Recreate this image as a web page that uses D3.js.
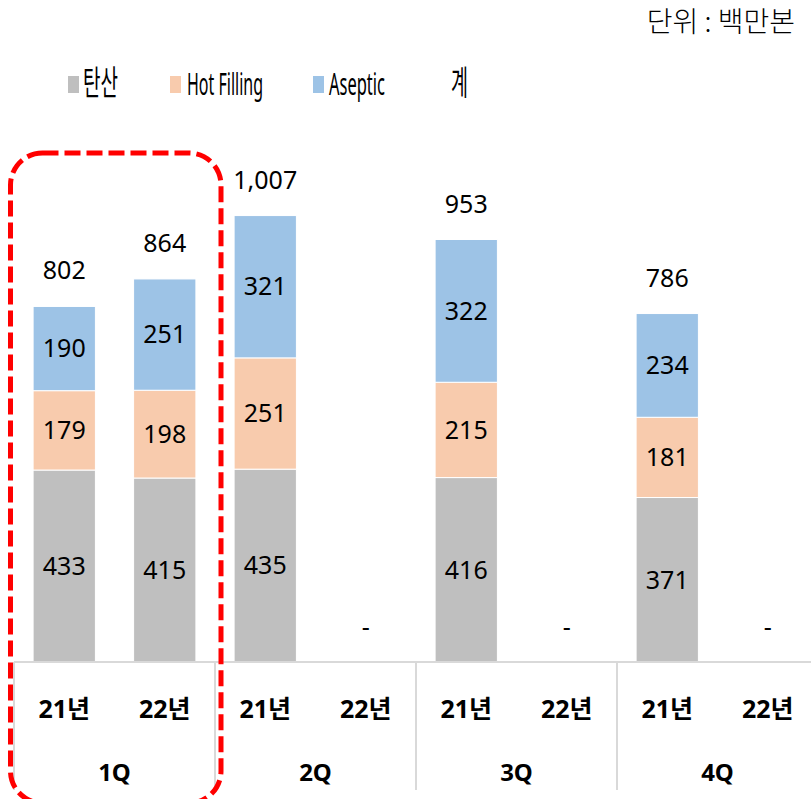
<!DOCTYPE html>
<html>
<head>
<meta charset="utf-8">
<script src="https://cdn.jsdelivr.net/npm/d3@7"></script>
<style>
  body { margin: 0; background: #fff; }
  svg { display: block; }
</style>
</head>
<body>
<div id="chart"></div>
<script>
// data
const quarters = ["1Q", "2Q", "3Q", "4Q"];
const years = ["21년", "22년"];
const series_names = ["탄산", "Hot Filling", "Aseptic"];
// one entry per slot: 1Q-21, 1Q-22, 2Q-21, 2Q-22, ...  (null = no data, shown as "-")
const tansan = [433, 415, 435, null, 416, null, 371, null];
const hot_filling = [179, 198, 251, null, 215, null, 181, null];
const aseptic = [190, 251, 321, null, 322, null, 234, null];
const totals = [802, 864, 1007, null, 953, null, 786, null];

const colors = ["#bfbfbf", "#f8cbad", "#9dc3e6"];
const num_font = "'Noto Sans', 'Noto Sans CJK KR', sans-serif";
const kr_font = "'Noto Sans CJK KR', 'Noto Sans', sans-serif";

const width = 811, height = 799;
const base_y = 662;

const svg = d3.select("#chart")
    .append("svg")
    .attr("width", width)
    .attr("height", height);

// slots
const slots = [];
quarters.forEach(q => years.forEach(y => slots.push(q + "|" + y)));

const rows = slots.map((s, i) => ({
    slot: s,
    "탄산": tansan[i] || 0,
    "Hot Filling": hot_filling[i] || 0,
    "Aseptic": aseptic[i] || 0,
    total: totals[i]
}));

const x = d3.scaleBand()
    .domain(slots)
    .range([14, 818])
    .paddingInner(0.38)
    .paddingOuter(0.19);

const y = d3.scaleLinear()
    .domain([0, 1200])
    .range([base_y, 130]);

const stack = d3.stack().keys(series_names);
const layers = stack(rows);

// bars
const layer_g = svg.selectAll("g.layer")
    .data(layers)
    .join("g")
    .attr("class", "layer")
    .attr("fill", (d, i) => colors[i]);

layer_g.selectAll("rect")
    .data(d => d.filter(p => p[1] > p[0]))
    .join("rect")
    .attr("x", d => x(d.data.slot))
    .attr("y", d => y(d[1]))
    .attr("width", x.bandwidth())
    .attr("height", d => y(d[0]) - y(d[1]))
    .attr("stroke", "#fff")
    .attr("stroke-width", 1);

// segment labels
layer_g.selectAll("text")
    .data(d => d.filter(p => p[1] > p[0]))
    .join("text")
    .attr("x", d => x(d.data.slot) + x.bandwidth() / 2)
    .attr("y", d => (y(d[0]) + y(d[1])) / 2)
    .attr("dy", "0.35em")
    .attr("text-anchor", "middle")
    .attr("font-family", num_font)
    .attr("font-size", 25)
    .attr("fill", "#000")
    .text(d => d[1] - d[0]);

// totals and "-" for empty slots
svg.append("g")
    .selectAll("text")
    .data(rows)
    .join("text")
    .attr("x", d => x(d.slot) + x.bandwidth() / 2)
    .attr("y", d => d.total ? y(d.total) - 27 : base_y - 26)
    .attr("text-anchor", "middle")
    .attr("font-family", num_font)
    .attr("font-size", 25)
    .attr("fill", "#000")
    .text(d => d.total ? d3.format(",")(d.total) : "-");

// axis line and quarter separators
svg.append("line")
    .attr("x1", 14).attr("x2", width)
    .attr("y1", base_y).attr("y2", base_y)
    .attr("stroke", "#d9d9d9")
    .attr("stroke-width", 2);

const group_w = x.step() * years.length;
svg.append("g")
    .selectAll("line")
    .data(quarters)
    .join("line")
    .attr("x1", (d, i) => 14 + i * group_w)
    .attr("x2", (d, i) => 14 + i * group_w)
    .attr("y1", base_y)
    .attr("y2", 790)
    .attr("stroke", "#d9d9d9")
    .attr("stroke-width", 2);

// year labels
svg.append("g")
    .selectAll("text")
    .data(slots)
    .join("text")
    .attr("x", d => x(d) + x.bandwidth() / 2)
    .attr("y", 718)
    .attr("text-anchor", "middle")
    .attr("font-family", num_font)
    .attr("font-weight", "bold")
    .attr("font-size", 25)
    .attr("fill", "#000")
    .text(d => d.split("|")[1]);

// quarter labels
svg.append("g")
    .selectAll("text")
    .data(quarters)
    .join("text")
    .attr("x", (d, i) => 14 + i * group_w + group_w / 2)
    .attr("y", 781)
    .attr("text-anchor", "middle")
    .attr("font-family", num_font)
    .attr("font-weight", "bold")
    .attr("font-size", 24)
    .attr("fill", "#000")
    .text(d => d);

// unit label
svg.append("text")
    .attr("x", 795)
    .attr("y", 32)
    .attr("text-anchor", "end")
    .attr("font-family", kr_font)
    .attr("font-weight", 300)
    .attr("font-size", 28)
    .attr("fill", "#000")
    .text("단위 : 백만본");

// legend (the source squeezes it horizontally)
const legend_items = [
    {name: "탄산", color: colors[0], mx: 68, tx: 83, tw: 35, size: 34},
    {name: "Hot Filling", color: colors[1], mx: 170, tx: 187, tw: 76, size: 30},
    {name: "Aseptic", color: colors[2], mx: 313, tx: 329, tw: 56, size: 30},
    {name: "계", color: null, mx: 0, tx: 451, tw: 17, size: 34}
];

const legend = svg.append("g");
legend.selectAll("rect")
    .data(legend_items.filter(d => d.color))
    .join("rect")
    .attr("x", d => d.mx)
    .attr("y", 76)
    .attr("width", 11)
    .attr("height", 17)
    .attr("fill", d => d.color);

legend.selectAll("text")
    .data(legend_items)
    .join("text")
    .attr("x", d => d.tx)
    .attr("y", 95)
    .attr("font-family", d => /[a-z]/i.test(d.name) ? num_font : kr_font)
    .attr("font-size", d => d.size)
    .attr("textLength", d => d.tw)
    .attr("lengthAdjust", "spacingAndGlyphs")
    .attr("fill", "#000")
    .text(d => d.name);

// red dashed highlight around 1Q
svg.append("rect")
    .attr("x", 10.5)
    .attr("y", 153)
    .attr("width", 210.5)
    .attr("height", 650)
    .attr("rx", 32)
    .attr("fill", "none")
    .attr("stroke", "#ff0000")
    .attr("stroke-width", 5)
    .attr("stroke-dasharray", "16,6");
</script>
</body>
</html>
